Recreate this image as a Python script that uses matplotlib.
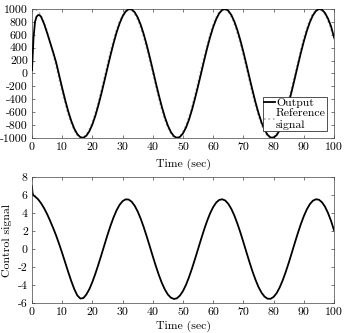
import numpy as np
import matplotlib
matplotlib.use("Agg")
import matplotlib.pyplot as plt

plt.rcParams['font.family'] = 'serif'
plt.rcParams['font.serif'] = ['cmr10', 'DejaVu Serif']
plt.rcParams['axes.unicode_minus'] = False
plt.rcParams['mathtext.fontset'] = 'cm'

# dane
t_ref = [0] + [k + 0.7 for k in range(0, 101)]
y_ref = [975, 1000, 980, 921, 825, 697, 540, 362, 170, -29, -227,
         -416, -589, -737, -857, -942, -990, -998, -967, -897, -791,
         -654, -490, -307, -112, 87, 284, 468, 635, 776, 886,
         960, 997, 993, 950, 869, 754, 608, 438, 251, 54,
         -146, -339, -519, -679, -811, -911, -975, -1000, -985, -930,
         -839, -715, -560, -383, -193, 4, 202, 393, 568, 720,
         844, 934, 986, 999, 973, 907, 806, 672, 512, 331,
         137, -63, -260, -447, -615, -760, -873, -953, -995, -996,
         -958, -882, -770, -627, -460, -275, -79, 120, 316, 498,
         660, 796, 901, 969, 999, 989, 939, 852, 732, 581,
         408]

t_out = [0, 0.5, 1, 1.5, 2, 2.5] + list(range(3, 101))
y_out = [50, 550, 800, 880, 905, 905,
         880, 770, 630, 480, 330, 170, -29,
         -227, -416, -589, -737, -857, -942, -990, -998, -967, -897,
         -791, -654, -490, -307, -112, 87, 284, 468, 635, 776,
         886, 960, 997, 993, 950, 869, 754, 608, 438, 251,
         54, -146, -339, -519, -679, -811, -911, -975, -1000, -985,
         -930, -839, -715, -560, -383, -193, 4, 202, 393, 568,
         720, 844, 934, 986, 999, 973, 907, 806, 672, 512,
         331, 137, -63, -260, -447, -615, -760, -873, -953, -995,
         -996, -958, -882, -770, -627, -460, -275, -79, 120, 316,
         498, 660, 796, 901, 969, 999, 989, 939, 852, 732,
         560]

t_u = [0, 0.15, 0.4] + list(range(1, 101))
u = [7.0, 6.3, 6.0,
     5.85, 5.55, 5.1, 4.55, 3.9, 3.15, 2.35, 1.5, 0.55, -0.45,
     -1.5, -2.55, -3.55, -4.45, -5.15, -5.5, -5.45, -5.05, -4.45, -3.65,
     -2.72, -1.70, -0.62, 0.48, 1.58, 2.60, 3.52, 4.31, 4.92, 5.33,
     5.53, 5.51, 5.27, 4.82, 4.18, 3.37, 2.43, 1.39, 0.30, -0.81,
     -1.88, -2.88, -3.77, -4.50, -5.06, -5.41, -5.55, -5.47, -5.16, -4.66,
     -3.97, -3.11, -2.13, -1.07, 0.02, 1.12, 2.18, 3.15, 4.00, 4.68,
     5.18, 5.47, 5.54, 5.40, 5.03, 4.47, 3.73, 2.84, 1.84, 0.76,
     -0.35, -1.44, -2.48, -3.41, -4.22, -4.85, -5.29, -5.52, -5.53, -5.32,
     -4.90, -4.27, -3.48, -2.55, -1.53, -0.44, 0.67, 1.75, 2.76, 3.66,
     4.42, 5.00, 5.38, 5.54, 5.49, 5.21, 4.73, 4.02, 3.15, 2.10]

fs = 8.5
fig = plt.figure(figsize=(3.44, 3.33), dpi=100)
ax1 = fig.add_axes([0.093, 0.586, 0.878, 0.387])
ax2 = fig.add_axes([0.093, 0.09, 0.878, 0.378])

ax1.plot(t_ref, y_ref, ':', color='#b0b0b0', lw=1.2, label='Reference\nsignal', zorder=2)
ax1.plot(t_out, y_out, '-', color='black', lw=1.3, label='Output', zorder=3)
ax1.set_xlim(0, 100)
ax1.set_ylim(-1000, 1000)
ax1.set_yticks(np.arange(-1000, 1001, 200))
ax1.set_xlabel('Time (sec)', fontsize=fs, labelpad=5)
h, l = ax1.get_legend_handles_labels()
leg = ax1.legend(h[::-1], l[::-1], loc='lower right', fontsize=fs, handlelength=0.9,
                 handletextpad=0.1, borderpad=0.1, labelspacing=0.0, fancybox=False,
                 framealpha=1, borderaxespad=0.6)
leg.get_frame().set_edgecolor('#333333')
leg.get_frame().set_linewidth(0.6)

ax2.plot(t_u, u, '-', color='black', lw=1.3)
ax2.set_xlim(0, 100)
ax2.set_ylim(-6, 8)
ax2.set_yticks(np.arange(-6, 9, 2))
ax2.set_xlabel('Time (sec)', fontsize=fs, labelpad=3)
ax2.set_ylabel('Control signal', fontsize=fs, labelpad=4)

for ax in (ax1, ax2):
    ax.set_xticks(np.arange(0, 101, 10))
    ax.tick_params(direction='in', top=True, right=True, labelsize=fs, length=2.5,
                   width=0.5, pad=3, color='#444444')
    for s in ax.spines.values():
        s.set_linewidth(0.5)
        s.set_color('#444444')

fig.savefig('out.png', dpi=100)
